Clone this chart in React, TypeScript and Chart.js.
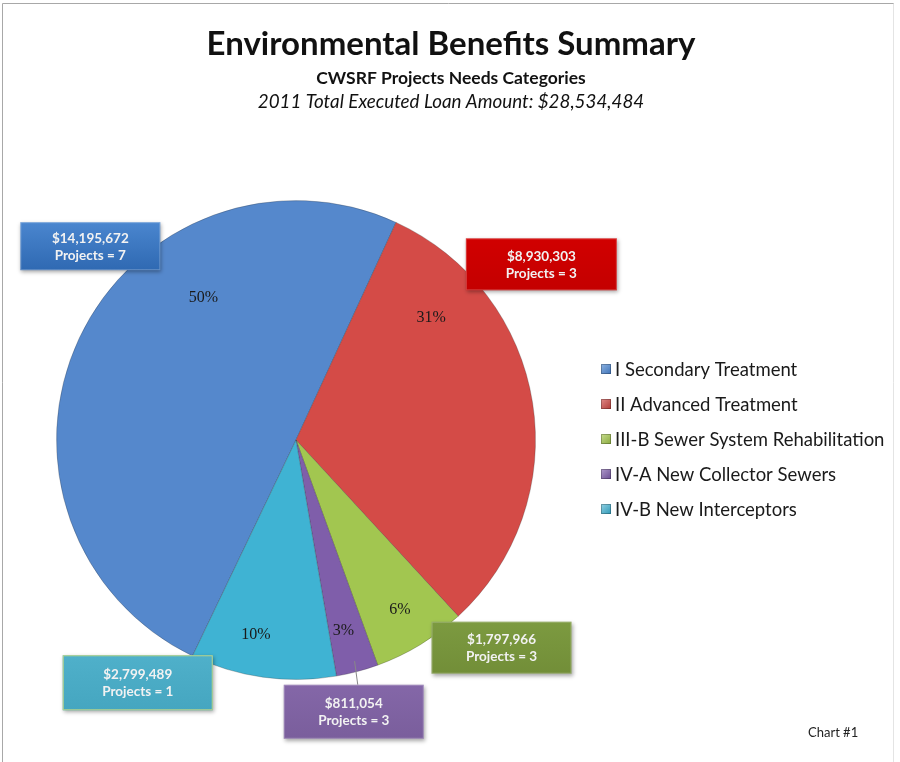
import React, { useEffect, useRef } from "react";
import { Chart, registerables } from "chart.js";

Chart.register(...registerables);

// ---- data ----
const categories = [
  "I Secondary Treatment",
  "II Advanced Treatment",
  "III-B Sewer System Rehabilitation",
  "IV-A New Collector Sewers",
  "IV-B New Interceptors",
];
const loanAmounts = [14195672, 8930303, 1797966, 811054, 2799489];
const projectCounts = [7, 3, 3, 3, 1];
const titleText = "Environmental Benefits Summary";
const subtitleText = "CWSRF Projects Needs Categories";
const totalLineText = "2011 Total Executed Loan Amount: $28,534,484";
const footnoteText = "Chart #1";

// ---- styles ----
const sliceColors = ["#5588CC", "#D44B47", "#A2C650", "#7F5EAA", "#3FB3D3"];
const boxColors = [
  ["#4A86CF", "#2F69B2"],
  ["#D10000", "#C40000"],
  ["#7C9A40", "#728E38"],
  ["#8467A8", "#7A5E9C"],
  ["#4FB0CA", "#45A6C0"],
];
const legendColors = [
  ["#8DB3E2", "#3F73B8"],
  ["#E08A88", "#B03A36"],
  ["#C7DD8E", "#8AAA3E"],
  ["#B09BCB", "#6A4D92"],
  ["#92D2E4", "#2F98B6"],
];
// label placement: polar (angle clockwise from top in degrees, radius factor)
const pctPlacement = [
  [327, 0.71],
  [48, 0.76],
  [148.5, 0.83],
  [166, 0.82],
  [191.6, 0.83],
];
const boxPlacement = [
  [313.3, 1.18],
  [54.4, 1.26],
  [135.3, 1.22],
  [168, 1.16],
  [213.1, 1.21],
];
const boxSizes = [
  [140, 48],
  [151, 52],
  [140, 52],
  [140, 54],
  [150, 55],
];
const leaderLines = [false, false, false, true, false];

const SANS = "Lato, 'Open Sans', sans-serif";
const SERIF = "'Liberation Serif', 'DejaVu Serif', serif";

function polar(cx: number, cy: number, R: number, deg: number, f: number) {
  const t = (deg * Math.PI) / 180;
  return { x: cx + R * f * Math.sin(t), y: cy - R * f * Math.cos(t) };
}

const decorPlugin = {
  id: "decor",
  beforeDraw(chart: any) {
    const ctx = chart.ctx as CanvasRenderingContext2D;
    ctx.save();
    ctx.fillStyle = "#ffffff";
    ctx.fillRect(0, 0, chart.width, chart.height);
    // frame
    ctx.strokeStyle = "#a8a8a8";
    ctx.lineWidth = 1;
    ctx.beginPath();
    ctx.moveTo(2.5, chart.height);
    ctx.lineTo(2.5, 3.5);
    ctx.lineTo(chart.width - 6, 3.5);
    ctx.stroke();
    ctx.strokeStyle = "#e4e4e4";
    ctx.beginPath();
    ctx.moveTo(chart.width - 6.5, 3.5);
    ctx.lineTo(chart.width - 6.5, chart.height);
    ctx.stroke();
    // titles
    const mid = chart.width / 2 + 1;
    ctx.fillStyle = "#111";
    ctx.textAlign = "center";
    ctx.textBaseline = "alphabetic";
    ctx.font = `bold 33px ${SANS}`;
    ctx.fillText(titleText, mid, 55);
    ctx.font = `bold 17.5px ${SANS}`;
    ctx.fillText(subtitleText, mid, 84);
    ctx.font = `italic 18.8px ${SANS}`;
    ctx.fillText(totalLineText, mid, 108);
    // footnote
    ctx.font = `13px ${SANS}`;
    ctx.fillStyle = "#222";
    ctx.textAlign = "left";
    ctx.fillText(footnoteText, 808, 737);
    ctx.restore();
  },
  afterDatasetsDraw(chart: any) {
    const ctx = chart.ctx as CanvasRenderingContext2D;
    const meta = chart.getDatasetMeta(0);
    const arc0 = meta.data[0];
    const cx = arc0.x;
    const cy = arc0.y;
    const R = arc0.outerRadius;
    const data = chart.data.datasets[0].data as number[];
    const total = data.reduce((a: number, b: number) => a + b, 0);
    ctx.save();
    // percentages
    ctx.font = `16px ${SERIF}`;
    ctx.fillStyle = "#1a1a1a";
    ctx.textAlign = "center";
    ctx.textBaseline = "middle";
    data.forEach((v, i) => {
      const p = polar(cx, cy, R, pctPlacement[i][0], pctPlacement[i][1]);
      ctx.fillText(Math.round((v / total) * 100) + "%", p.x, p.y);
    });
    // callout boxes
    data.forEach((v, i) => {
      const c = polar(cx, cy, R, boxPlacement[i][0], boxPlacement[i][1]);
      const [w, h] = boxSizes[i];
      const x = c.x - w / 2;
      const y = c.y - h / 2;
      if (leaderLines[i]) {
        const a = (meta.data[i].startAngle + meta.data[i].endAngle) / 2;
        const px = cx + Math.cos(a) * R * 0.955;
        const py = cy + Math.sin(a) * R * 0.955;
        ctx.strokeStyle = "#888";
        ctx.lineWidth = 1;
        ctx.beginPath();
        ctx.moveTo(px, py);
        ctx.lineTo(c.x + 4, y);
        ctx.stroke();
      }
      ctx.save();
      ctx.shadowColor = "rgba(0,0,0,0.35)";
      ctx.shadowBlur = 4;
      ctx.shadowOffsetX = 1;
      ctx.shadowOffsetY = 2;
      const g = ctx.createLinearGradient(0, y, 0, y + h);
      g.addColorStop(0, boxColors[i][0]);
      g.addColorStop(1, boxColors[i][1]);
      ctx.fillStyle = g;
      ctx.fillRect(x, y, w, h);
      ctx.restore();
      ctx.strokeStyle = i === 4 ? "#B9D58A" : "rgba(255,255,255,0.25)";
      ctx.lineWidth = 1;
      ctx.strokeRect(x + 0.5, y + 0.5, w - 1, h - 1);
      ctx.fillStyle = "#F2F2F2";
      ctx.font = `bold 13.5px ${SANS}`;
      ctx.fillText("$" + v.toLocaleString("en-US"), c.x, c.y - 8);
      ctx.fillText("Projects = " + projectCounts[i], c.x, c.y + 9);
    });
    // legend
    const lx = chart.chartArea.right + 65;
    const ly0 = cy - 71;
    ctx.textAlign = "left";
    ctx.font = `18.5px ${SANS}`;
    chart.data.labels.forEach((lab: string, i: number) => {
      const y = ly0 + i * 35;
      const g = ctx.createLinearGradient(lx, y - 5, lx + 10, y + 5);
      g.addColorStop(0, legendColors[i][0]);
      g.addColorStop(1, legendColors[i][1]);
      ctx.fillStyle = g;
      ctx.fillRect(lx, y - 5, 10, 10);
      ctx.strokeStyle = "rgba(0,0,0,0.25)";
      ctx.strokeRect(lx + 0.5, y - 4.5, 9, 9);
      ctx.fillStyle = "#1a1a1a";
      ctx.fillText(lab, lx + 14, y + 1);
    });
    ctx.restore();
  },
};

export default function App() {
  const ref = useRef<HTMLCanvasElement>(null);
  useEffect(() => {
    if (!ref.current) return;
    const chart = new Chart(ref.current, {
      type: "pie",
      data: {
        labels: categories,
        datasets: [
          {
            data: loanAmounts,
            backgroundColor: sliceColors,
            borderColor: "rgba(40,40,40,0.25)",
            borderWidth: 1,
          },
        ],
      },
      options: {
        responsive: false,
        animation: false,
        rotation: 205.6,
        layout: { padding: { left: 56, right: 364, top: 200, bottom: 82 } },
        plugins: {
          legend: { display: false },
          tooltip: { enabled: false },
          title: { display: false },
        },
      },
      plugins: [decorPlugin],
    });
    return () => chart.destroy();
  }, []);
  return (
    <div style={{ position: "fixed", left: 0, top: 0, width: 900, height: 762, background: "#fff" }}>
      <canvas ref={ref} width={900} height={762} style={{ width: 900, height: 762, display: "block" }} />
    </div>
  );
}
